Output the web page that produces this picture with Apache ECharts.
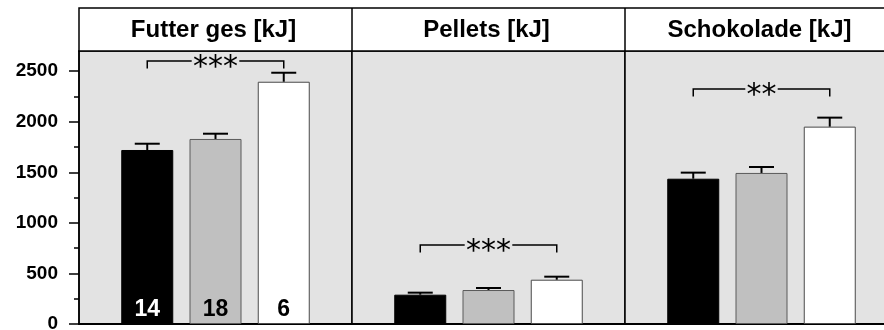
<!DOCTYPE html>
<html>
<head>
<meta charset="utf-8">
<script src="https://cdn.jsdelivr.net/npm/echarts@6/dist/echarts.min.js"></script>
<style>
html,body{margin:0;padding:0;background:#fff;}
#chart{width:884px;height:330px;}
</style>
</head>
<body>
<div id="chart"></div>
<script>
// ---- data ----
const panelTitles = ['Futter ges [kJ]', 'Pellets [kJ]', 'Schokolade [kJ]'];
const groupPositions = [1, 2, 3];
const futterMeans = [1721, 1830, 2396];
const futterErrs = [62, 52, 89];
const pelletsMeans = [290, 336, 438];
const pelletsErrs = [20, 20, 30];
const schokoMeans = [1437, 1494, 1952];
const schokoErrs = [60, 59, 89];
const groupCounts = ['14', '18', '6'];
const sigBrackets = [
  [1, 3, 2601, '***'],
  [1, 3, 781, '***'],
  [1, 3, 2324, '**']
];
const yMajorTicks = [0, 500, 1000, 1500, 2000, 2500];
const yMinorTicks = [250, 750, 1250, 1750, 2250];

// ---- styles ----
const FONT = 'Liberation Sans, Arial, sans-serif';
const barFills = ['#000000', '#c0c0c0', '#ffffff'];
const barBorders = ['#000000', '#5a5a5a', '#4a4a4a'];
const countColors = ['#ffffff', '#000000', '#000000'];
const PLOT_BG = '#e3e3e3';
const PANEL_LEFT = 79, PANEL_W = 273, TOP = 51, HEADER_TOP = 8;

const means = [futterMeans, pelletsMeans, schokoMeans];
const errs = [futterErrs, pelletsErrs, schokoErrs];

const chart = echarts.init(document.getElementById('chart'), null, {renderer: 'canvas'});

const grids = [], xAxes = [], yAxes = [], series = [];
for (let p = 0; p < 3; p++) {
  grids.push({
    left: PANEL_LEFT + p * PANEL_W, top: TOP, width: PANEL_W, height: 273,
    containLabel: false, outerBoundsMode: 'none',
    show: true, backgroundColor: PLOT_BG, borderColor: '#000', borderWidth: 1.5
  });
  xAxes.push({
    gridIndex: p, type: 'value', min: 0, max: 4,
    axisLine: {show: true, onZero: false, lineStyle: {color: '#000', width: 2}},
    axisTick: {show: false}, axisLabel: {show: false}, splitLine: {show: false}
  });
  yAxes.push({
    gridIndex: p, type: 'value', min: 0, max: 2700,
    show: p === 0,
    axisLine: {show: true, lineStyle: {color: '#000', width: 1.5}},
    axisTick: {show: true, length: 10, customValues: yMajorTicks, lineStyle: {color: '#000', width: 1.5}},
    axisLabel: {show: true, customValues: yMajorTicks, margin: 21, color: '#000',
      formatter: v => String(v),
      fontFamily: FONT, fontWeight: 'bold', fontSize: 19},
    splitLine: {show: false}
  });
  // bars
  series.push({
    type: 'bar', xAxisIndex: p, yAxisIndex: p, barWidth: 52, z: 2,
    data: groupPositions.map((x, i) => ({
      value: [x, means[p][i]],
      itemStyle: {color: barFills[i], borderColor: barBorders[i], borderWidth: 1},
      label: {
        show: p === 0, position: 'insideBottom', distance: 3,
        formatter: groupCounts[i], color: countColors[i],
        fontFamily: FONT, fontWeight: 'bold', fontSize: 23
      }
    }))
  });
  // error bars
  series.push({
    type: 'custom', xAxisIndex: p, yAxisIndex: p, z: 3,
    data: groupPositions.map((x, i) => [x, means[p][i], errs[p][i]]),
    renderItem: function (params, api) {
      const x = api.value(0), v = api.value(1), e = api.value(2);
      const b = api.coord([x, v]);
      const t = api.coord([x, v + e]);
      const style = {stroke: '#000', lineWidth: 2};
      return {type: 'group', children: [
        {type: 'line', shape: {x1: b[0], y1: b[1], x2: t[0], y2: t[1]}, style: style},
        {type: 'line', shape: {x1: t[0] - 12.5, y1: t[1], x2: t[0] + 12.5, y2: t[1]}, style: style}
      ]};
    }
  });
  // significance bracket
  series.push({
    type: 'custom', xAxisIndex: p, yAxisIndex: p, z: 4,
    data: [sigBrackets[p]],
    renderItem: function (params, api) {
      const a = api.coord([api.value(0), api.value(2)]);
      const b = api.coord([api.value(1), api.value(2)]);
      const drop = 7.5;
      const label = sigBrackets[p][3];
      const mid = (a[0] + b[0]) / 2;
      const half = label.length * 7.6 + 1;
      const ls = {stroke: '#000', lineWidth: 1.5, fill: null};
      return {type: 'group', children: [
        {type: 'polyline', shape: {points: [[a[0], a[1] + drop], [a[0], a[1]], [mid - half, a[1]]]}, style: ls},
        {type: 'polyline', shape: {points: [[mid + half, b[1]], [b[0], b[1]], [b[0], b[1] + drop]]}, style: ls},
        {type: 'text', x: mid, y: a[1] + 7,
          style: {text: label, fill: '#000', font: '30px DejaVu Sans', align: 'center', verticalAlign: 'middle'}}
      ]};
    }
  });
}
// minor ticks on the first panel
yAxes.push({
  gridIndex: 0, type: 'value', min: 0, max: 2700, position: 'left',
  axisLine: {show: false},
  axisTick: {show: true, length: 5, customValues: yMinorTicks, lineStyle: {color: '#000', width: 1.5}},
  axisLabel: {show: false}, splitLine: {show: false}
});

const graphics = [
  {type: 'rect', shape: {x: PANEL_LEFT, y: HEADER_TOP, width: PANEL_W * 3, height: TOP - HEADER_TOP},
    style: {fill: '#fff', stroke: '#000', lineWidth: 1.5}, z: 10}
];
for (let p = 1; p < 3; p++) {
  graphics.push({type: 'line', shape: {x1: PANEL_LEFT + p * PANEL_W, y1: HEADER_TOP, x2: PANEL_LEFT + p * PANEL_W, y2: TOP},
    style: {stroke: '#000', lineWidth: 1.5}, z: 11});
}
panelTitles.forEach((t, p) => {
  graphics.push({type: 'text', x: PANEL_LEFT + p * PANEL_W + PANEL_W / 2 - 2, y: (HEADER_TOP + TOP) / 2 + 1, z: 12,
    style: {text: t, fill: '#000', font: 'bold 24px ' + FONT, align: 'center', verticalAlign: 'middle'}});
});

chart.setOption({
  animation: false,
  backgroundColor: '#fff',
  grid: grids,
  xAxis: xAxes,
  yAxis: yAxes,
  series: series,
  graphic: graphics
});
</script>
</body>
</html>
